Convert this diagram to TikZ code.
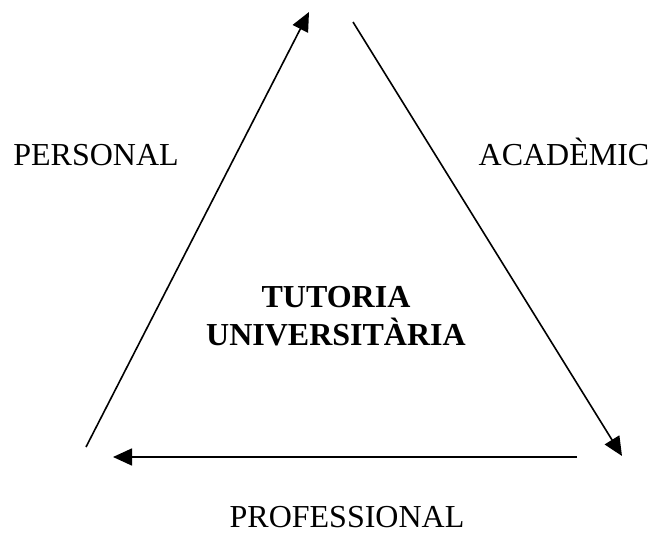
\documentclass[tikz,border=0pt]{standalone}
\usepackage{fontspec}
\setmainfont{Liberation Serif}
\usetikzlibrary{arrows.meta}
\begin{document}
\begin{tikzpicture}[x=1pt,y=-1pt,
  lbl/.style={font=\fontsize{32}{38}\selectfont, inner sep=0pt, anchor=base},
  ttl/.style={font=\fontsize{32}{38}\selectfont\bfseries, inner sep=0pt, anchor=base},
  arr/.style={line width=1.6pt, -{Triangle[length=19pt,width=17pt]}}]
\useasboundingbox (0,0) rectangle (649,535);
\coordinate (ls) at (86,447);
\coordinate (lt) at (309,12);
\coordinate (rs) at (353,22);
\coordinate (rt) at (622,456);
\coordinate (bs) at (577,457);
\coordinate (bt) at (113,457);
\draw[arr] (ls) -- (lt);
\draw[arr] (rs) -- (rt);
\draw[arr] (bs) -- (bt);
\node[lbl] (personal) at (96,166) {PERSONAL};
\node[lbl] (academic) at (564,166) {ACADÈMIC};
\node[lbl] (prof) at (347,527) {PROFESSIONAL};
\node[ttl] (t1) at (336,307) {TUTORIA};
\node[ttl] (t2) at (336,345) {UNIVERSITÀRIA};
\end{tikzpicture}
\end{document}
